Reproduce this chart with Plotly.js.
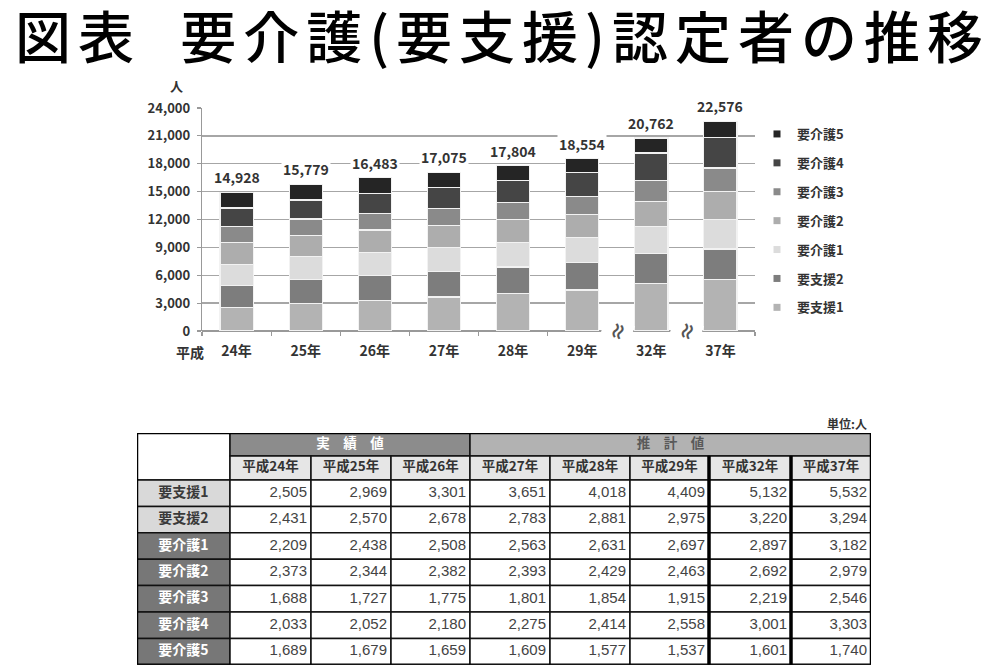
<!DOCTYPE html>
<html>
<head>
<meta charset="utf-8">
<script src="https://cdn.plot.ly/plotly-3.0.1.min.js"></script>
<style>html,body{margin:0;padding:0;background:#fff;}#chart{width:999px;height:665px;}#chart .gtitle{letter-spacing:7px;white-space:pre;}</style>
</head>
<body>
<div id="chart"></div>
<script>
// ---- data ----
const era = '平成';
const years = ['24年', '25年', '26年', '27年', '28年', '29年', '32年', '37年'];
const seriesNames = ['要支援1', '要支援2', '要介護1', '要介護2', '要介護3', '要介護4', '要介護5'];
const shien1 = [2505, 2969, 3301, 3651, 4018, 4409, 5132, 5532];
const shien2 = [2431, 2570, 2678, 2783, 2881, 2975, 3220, 3294];
const kaigo1 = [2209, 2438, 2508, 2563, 2631, 2697, 2897, 3182];
const kaigo2 = [2373, 2344, 2382, 2393, 2429, 2463, 2692, 2979];
const kaigo3 = [1688, 1727, 1775, 1801, 1854, 1915, 2219, 2546];
const kaigo4 = [2033, 2052, 2180, 2275, 2414, 2558, 3001, 3303];
const kaigo5 = [1689, 1679, 1659, 1609, 1577, 1537, 1601, 1740];
const groupHeaders = ['実　績　値', '推　計　値'];
const groupSpans = [3, 5];          // number of year columns under each group header
const unitLabel = '単位:人';
const yUnit = '人';
const titleText = '図表\u00a0\u00a0要介護(要支援)認定者の推移';

// ---- styles ----
const values = [shien1, shien2, kaigo1, kaigo2, kaigo3, kaigo4, kaigo5];
const barColors = ['#b3b3b3', '#7d7d7d', '#dcdcdc', '#adadad', '#8a8a8a', '#454545', '#252525'];
const FONT = '"Noto Sans CJK JP", "Noto Sans", sans-serif';
const NUMFONT = '"Liberation Sans", Arial, sans-serif';
const W = 999, H = 665;
const px = x => x / W;
const py = y => 1 - y / H;

const totals = years.map((_, i) => values.reduce((s, arr) => s + arr[i], 0));
const fmt = v => v.toLocaleString('en-US');

const traces = [];
values.forEach((arr, k) => {
  traces.push({
    type: 'bar', x: years, y: arr, name: seriesNames[k],
    marker: {color: barColors[k], line: {color: '#f2f2f2', width: 1.2}},
    showlegend: false, hoverinfo: 'skip', xaxis: 'x', yaxis: 'y'
  });
});
// legend entries (small square swatches), top entry = top of the stack
for (let k = values.length - 1; k >= 0; k--) {
  traces.push({
    type: 'scatter', mode: 'markers', x: [null], y: [null], name: seriesNames[k],
    legendgroup: 'g' + k,
    marker: {symbol: 'square', size: 7, color: barColors[k]},
    showlegend: true, hoverinfo: 'skip', xaxis: 'x', yaxis: 'y'
  });
}

// ---- table (drawn on its own hidden axes, units = pixels inside the table box) ----
const tblX0 = 137, tblX1 = 871, tblY0 = 433;
const colW = [93, 81, 80, 79, 80, 80, 79, 82, 80];
const rowH = [23, 24].concat(seriesNames.map(() => 26.4));
const colEdge = [0]; colW.forEach(w => colEdge.push(colEdge[colEdge.length - 1] + w));
const rowEdge = [0]; rowH.forEach(h => rowEdge.push(rowEdge[rowEdge.length - 1] + h));
const tblW = colEdge[colEdge.length - 1], tblH = rowEdge[rowEdge.length - 1];
const lineCol = '#111';
const shapes = [];
const cell = (c0, c1, r0, r1, fill) => shapes.push({
  type: 'rect', xref: 'x2', yref: 'y2', layer: 'below',
  x0: colEdge[c0], x1: colEdge[c1], y0: rowEdge[r0], y1: rowEdge[r1],
  fillcolor: fill, line: {color: lineCol, width: 1.5}
});
const mid = (a, b) => (a + b) / 2;

// blank corner
cell(0, 1, 0, 2, 'white');
// group headers
const groupFill = ['#8c8c8c', '#b2b2b2'];
const groupFont = ['#ffffff', '#5a5a5a'];
const gx = [], gy = [];
let c = 1;
groupHeaders.forEach((g, i) => {
  cell(c, c + groupSpans[i], 0, 1, groupFill[i]);
  gx.push(mid(colEdge[c], colEdge[c + groupSpans[i]])); gy.push(mid(rowEdge[0], rowEdge[1]));
  c += groupSpans[i];
});
traces.push({type: 'scatter', mode: 'text', xaxis: 'x2', yaxis: 'y2', showlegend: false, hoverinfo: 'skip',
  x: gx, y: gy, text: groupHeaders.map(g => '<b>' + g + '</b>'), textposition: 'middle center',
  textfont: {family: FONT, size: 13.5, color: groupFont}});
// year headers
years.forEach((y, i) => cell(i + 1, i + 2, 1, 2, '#e6e6e6'));
traces.push({type: 'scatter', mode: 'text', xaxis: 'x2', yaxis: 'y2', showlegend: false, hoverinfo: 'skip',
  x: years.map((_, i) => mid(colEdge[i + 1], colEdge[i + 2])), y: years.map(() => mid(rowEdge[1], rowEdge[2])),
  text: years.map(y => '<b>' + era + y + '</b>'), textposition: 'middle center',
  textfont: {family: FONT, size: 13.5, color: '#333'}});
// row labels
const labelFill = seriesNames.map(n => n.startsWith('要支援') ? '#d9d9d9' : '#777777');
const labelFont = seriesNames.map(n => n.startsWith('要支援') ? '#3a3a3a' : '#ffffff');
seriesNames.forEach((n, r) => cell(0, 1, r + 2, r + 3, labelFill[r]));
traces.push({type: 'scatter', mode: 'text', xaxis: 'x2', yaxis: 'y2', showlegend: false, hoverinfo: 'skip',
  x: seriesNames.map(() => mid(colEdge[0], colEdge[1])), y: seriesNames.map((_, r) => mid(rowEdge[r + 2], rowEdge[r + 3])),
  text: seriesNames.map(n => '<b>' + n + '</b>'), textposition: 'middle center',
  textfont: {family: FONT, size: 14, color: labelFont}});
// numbers
const nx = [], ny = [], nt = [];
values.forEach((arr, r) => arr.forEach((v, i) => {
  cell(i + 1, i + 2, r + 2, r + 3, 'white');
  nx.push(colEdge[i + 2] - 4); ny.push(mid(rowEdge[r + 2], rowEdge[r + 3])); nt.push(fmt(v));
}));
traces.push({type: 'scatter', mode: 'text', xaxis: 'x2', yaxis: 'y2', showlegend: false, hoverinfo: 'skip',
  x: nx, y: ny, text: nt, textposition: 'middle left', cliponaxis: false,
  textfont: {family: NUMFONT, size: 15, color: '#444'}});
// thick separators before the later projection years, and outer frame
[7, 8].forEach(n => shapes.push({type: 'line', xref: 'x2', yref: 'y2', layer: 'above',
  x0: colEdge[n], x1: colEdge[n], y0: rowEdge[1], y1: tblH, line: {color: '#000', width: 3.5}}));
shapes.push({type: 'rect', xref: 'x2', yref: 'y2', layer: 'above',
  x0: 0, x1: tblW, y0: 0, y1: tblH, line: {color: '#000', width: 2.5}});

// ---- annotations ----
const annotations = years.map((y, i) => ({
  x: y, y: totals[i], xref: 'x', yref: 'y', text: fmt(totals[i]), showarrow: false,
  xanchor: 'center', yanchor: 'bottom', yshift: 3, bgcolor: 'white', borderpad: 1,
  font: {family: FONT, size: 14, color: '#333', weight: 'bold'}
}));
// axis breaks between non-consecutive years
[5.5, 6.5].forEach(b => annotations.push({
  x: b, y: 0, xref: 'x', yref: 'y', text: '≈', showarrow: false, textangle: -70,
  xanchor: 'center', yanchor: 'middle',
  bgcolor: 'white', borderpad: 0, font: {family: FONT, size: 20, color: '#555', weight: 'bold'}
}));
annotations.push({x: px(176), y: py(85), xref: 'paper', yref: 'paper', xanchor: 'center', yanchor: 'middle',
  text: yUnit, showarrow: false, font: {family: FONT, size: 13, color: '#333', weight: 'bold'}});
annotations.push({x: px(190), y: py(352), xref: 'paper', yref: 'paper', xanchor: 'center', yanchor: 'middle',
  text: era, showarrow: false, font: {family: FONT, size: 14, color: '#333', weight: 'bold'}});
annotations.push({x: px(869), y: py(423), xref: 'paper', yref: 'paper', xanchor: 'right', yanchor: 'middle',
  text: unitLabel, showarrow: false, font: {family: FONT, size: 12, color: '#333', weight: 'bold'}});

const layout = {
  width: W, height: H, autosize: false,
  margin: {l: 0, r: 0, t: 0, b: 0, pad: 0},
  paper_bgcolor: 'white', plot_bgcolor: 'rgba(0,0,0,0)',
  font: {family: FONT, color: '#333'},
  title: {text: titleText, x: 0.503, xanchor: 'center', xref: 'paper', y: py(38), yanchor: 'middle', yref: 'container',
    font: {family: FONT, size: 56, color: '#000', weight: 500}},
  barmode: 'stack', bargap: 0.52,
  xaxis: {domain: [px(202), px(755)], type: 'category', range: [-0.5, 7.5],
    showline: false, showgrid: false, zeroline: false,
    ticks: 'outside', tickson: 'boundaries', ticklen: 4, tickcolor: '#999', tickwidth: 1.2,
    ticklabelstandoff: 10,
    tickfont: {family: FONT, size: 14, color: '#333', weight: 'bold'}, fixedrange: true},
  yaxis: {domain: [py(331), py(108)], range: [0, 24000], dtick: 3000, tickformat: ',d',
    showline: true, linecolor: '#999', linewidth: 1.2,
    showgrid: true, gridcolor: '#a6a6a6', gridwidth: 1.4,
    zeroline: true, zerolinecolor: '#999', zerolinewidth: 1.4,
    ticks: 'outside', ticklen: 4, tickcolor: '#999', tickwidth: 1.2, ticklabelstandoff: 4,
    tickfont: {family: FONT, size: 13, color: '#333', weight: 'bold'}, fixedrange: true},
  xaxis2: {domain: [px(tblX0), px(tblX1)], range: [0, tblW], anchor: 'y2', visible: false, fixedrange: true},
  yaxis2: {domain: [py(tblY0 + tblH), py(tblY0)], range: [tblH, 0], anchor: 'x2', visible: false, fixedrange: true},
  showlegend: true,
  legend: {x: px(757), xanchor: 'left', y: py(119), yanchor: 'top', traceorder: 'grouped',
    tracegroupgap: 9, bgcolor: 'rgba(0,0,0,0)',
    font: {family: FONT, size: 13, color: '#333', weight: 'bold'}},
  annotations: annotations,
  shapes: shapes
};

Plotly.newPlot('chart', traces, layout, {staticPlot: true, displayModeBar: false});
</script>
</body>
</html>
